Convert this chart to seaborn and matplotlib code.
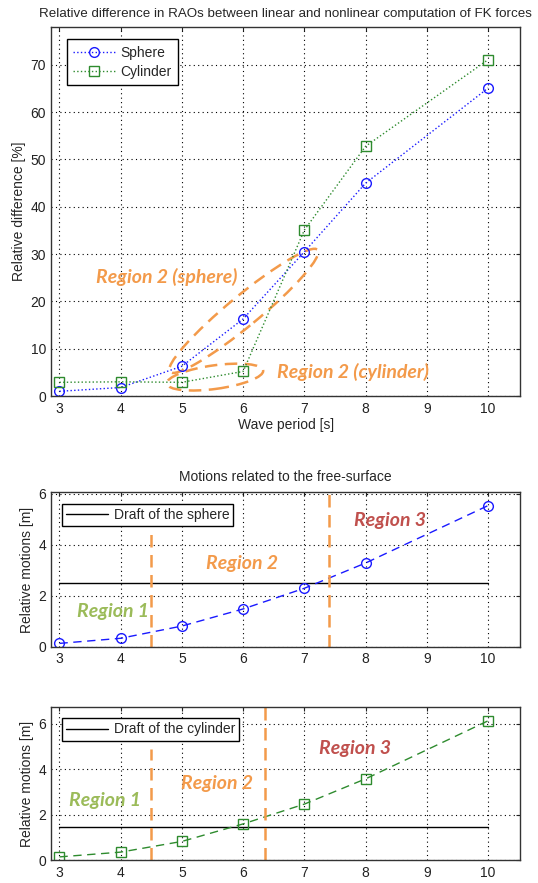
import numpy as np
import pandas as pd
import matplotlib
matplotlib.use("Agg")
import matplotlib.pyplot as plt
import matplotlib.transforms as mtransforms
from matplotlib.patches import Ellipse
import seaborn as sns

# Wave periods [s]
periods = [3, 4, 5, 6, 7, 8, 10]

# Relative difference between linear and nonlinear FK computation [%]
diff_sphere = [1.0, 1.8, 6.3, 16.3, 30.5, 45.0, 65.1]
diff_cylinder = [2.9, 3.0, 2.9, 5.2, 35.1, 52.8, 71.1]

# Relative motions with respect to the free surface [m]
motion_sphere = [0.13, 0.33, 0.81, 1.48, 2.29, 3.28, 5.53]
motion_cylinder = [0.15, 0.36, 0.83, 1.60, 2.47, 3.58, 6.13]

# Drafts [m]
draft_sphere = 2.5
draft_cylinder = 1.45

# Region boundaries (wave period) for each body
bounds_sphere = [4.5, 7.4]
bounds_cylinder = [4.5, 6.36]

BLUE = "#1a1aff"
GREEN = "#2e8b2e"
ORANGE = "#F39A4A"
OLIVE = "#9BBB59"
RED = "#C0504D"

sns.set_style("white")
plt.rcParams["font.family"] = ["Liberation Sans", "DejaVu Sans"]
plt.rcParams["font.size"] = 10

fig = plt.figure(figsize=(5.38, 8.83), dpi=100)
ax1 = fig.add_axes([0.0957, 0.5515, 0.8708, 0.4179])
ax2 = fig.add_axes([0.0957, 0.2676, 0.8708, 0.1749])
ax3 = fig.add_axes([0.0957, 0.0257, 0.8708, 0.1740])

region_font = dict(family=["Lato", "DejaVu Sans"], weight="bold", style="italic",
                   fontsize=14, ha="center", va="center")
DASH = (0, (5, 3))


def style_axes(ax, yticks, ylim):
    ax.set_xlim(2.87, 10.52)
    ax.set_ylim(*ylim)
    ax.set_xticks(range(3, 11))
    ax.set_yticks(yticks)
    ax.grid(True, color="black", linestyle=(0, (1, 3)), linewidth=0.8)
    ax.tick_params(direction="in", length=3, width=0.8, top=True, right=True,
                   labelsize=10, pad=4, colors="#222222")
    for s in ax.spines.values():
        s.set_color("#333333")
        s.set_linewidth(1.0)
        s.set_visible(True)
    ax.set_axisbelow(True)


def pixel_ellipse(ax, cx, cy, w_pt, h_pt, angle):
    trans = (mtransforms.Affine2D().scale(ax.figure.dpi / 72.0)
             + mtransforms.ScaledTranslation(cx, cy, ax.transData))
    e = Ellipse((0, 0), w_pt, h_pt, angle=angle, transform=trans, fill=False,
                edgecolor=ORANGE, linestyle=DASH, linewidth=1.8)
    ax.add_patch(e)


def boxed_legend(ax, **kw):
    leg = ax.legend(loc="upper left", fontsize=10, frameon=True, fancybox=False,
                    edgecolor="black", framealpha=1, **kw)
    leg.get_frame().set_linewidth(1.0)
    return leg


# ---- Top panel: relative difference in RAOs ----
df1 = pd.DataFrame({"period": periods, "sphere": diff_sphere, "cylinder": diff_cylinder})
sns.lineplot(data=df1, x="period", y="sphere", ax=ax1, color=BLUE, linestyle=":",
             marker="o", markersize=7, markerfacecolor="none", markeredgecolor=BLUE,
             markeredgewidth=1.0, linewidth=1.0, label="Sphere")
sns.lineplot(data=df1, x="period", y="cylinder", ax=ax1, color=GREEN, linestyle=":",
             marker="s", markersize=7, markerfacecolor="none", markeredgecolor=GREEN,
             markeredgewidth=1.0, linewidth=1.0, label="Cylinder")
style_axes(ax1, range(0, 80, 10), (0, 78))
ax1.set_title("Relative difference in RAOs between linear and nonlinear computation of FK forces",
              fontsize=9.6, pad=7)
ax1.set_xlabel("Wave period [s]", fontsize=10, labelpad=2)
ax1.set_ylabel("Relative difference [%]", fontsize=10, labelpad=3)
boxed_legend(ax1, bbox_to_anchor=(0.018, 0.985), handlelength=3.0,
             borderpad=0.45, labelspacing=0.35, handletextpad=0.4)

pixel_ellipse(ax1, 6.01, 18.0, 138, 22, 39.5)
pixel_ellipse(ax1, 5.54, 4.0, 70, 17, 7.8)
ax1.text(4.76, 25.1, "Region 2 (sphere)", color=ORANGE, **region_font)
ax1.text(7.8, 5.1, "Region 2 (cylinder)", color=ORANGE, **region_font)

# ---- Middle panel: sphere motions ----
df2 = pd.DataFrame({"period": periods, "motion": motion_sphere})
ax2.plot([periods[0], periods[-1]], [draft_sphere, draft_sphere], color="black",
         linewidth=1.0, label="Draft of the sphere")
sns.lineplot(data=df2, x="period", y="motion", ax=ax2, color=BLUE, linestyle=(0, (6, 4)),
             marker="o", markersize=7, markerfacecolor="none", markeredgecolor=BLUE,
             markeredgewidth=1.0, linewidth=1.0)
style_axes(ax2, [0, 2, 4, 6], (0, 6.05))
ax2.set_title("Motions related to the free-surface", fontsize=10, pad=8)
ax2.set_xlabel("")
ax2.set_ylabel("Relative motions [m]", fontsize=10, labelpad=3)
ax2.vlines(bounds_sphere[0], 0, 4.65, color=ORANGE, linestyle=DASH, linewidth=1.8)
ax2.vlines(bounds_sphere[1], 0, 6.15, color=ORANGE, linestyle=DASH, linewidth=1.8,
           clip_on=False)
ax2.text(3.88, 1.37, "Region 1", color=OLIVE, **region_font)
ax2.text(5.98, 3.26, "Region 2", color=ORANGE, **region_font)
ax2.text(8.39, 4.94, "Region 3", color=RED, **region_font)
boxed_legend(ax2, handles=[ax2.lines[0]], bbox_to_anchor=(0.008, 0.97),
             handlelength=3.0, borderpad=0.3, handletextpad=0.4)

# ---- Bottom panel: cylinder motions ----
df3 = pd.DataFrame({"period": periods, "motion": motion_cylinder})
ax3.plot([periods[0], periods[-1]], [draft_cylinder, draft_cylinder], color="black",
         linewidth=1.0, label="Draft of the cylinder")
sns.lineplot(data=df3, x="period", y="motion", ax=ax3, color=GREEN, linestyle=(0, (6, 4)),
             marker="s", markersize=7, markerfacecolor="none", markeredgecolor=GREEN,
             markeredgewidth=1.0, linewidth=1.0)
style_axes(ax3, [0, 2, 4, 6], (0, 6.75))
ax3.set_xlabel("")
ax3.set_ylabel("Relative motions [m]", fontsize=10, labelpad=3)
ax3.vlines(bounds_cylinder[0], 0, 4.9, color=ORANGE, linestyle=DASH, linewidth=1.8)
ax3.vlines(bounds_cylinder[1], 0, 6.85, color=ORANGE, linestyle=DASH, linewidth=1.8,
           clip_on=False)
ax3.text(3.74, 2.64, "Region 1", color=OLIVE, **region_font)
ax3.text(5.57, 3.37, "Region 2", color=ORANGE, **region_font)
ax3.text(7.83, 4.9, "Region 3", color=RED, **region_font)
boxed_legend(ax3, handles=[ax3.lines[0]], bbox_to_anchor=(0.008, 0.97),
             handlelength=3.0, borderpad=0.3, handletextpad=0.4)

fig.savefig("out.png", dpi=100)
